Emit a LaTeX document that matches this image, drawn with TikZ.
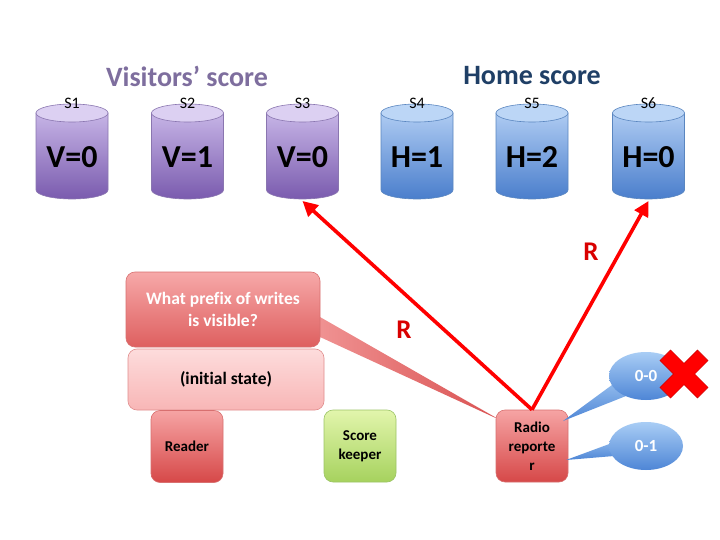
\documentclass[tikz,border=0pt]{standalone}
\usepackage{fontspec}
\setmainfont[Ligatures=NoCommon]{Carlito}
\usetikzlibrary{arrows.meta,shapes.geometric}
\definecolor{purpletop}{HTML}{C6B4E6}
\definecolor{purplebot}{HTML}{7A5BAE}
\definecolor{purplecap}{HTML}{DCD0F2}
\definecolor{purpleline}{HTML}{8A76B0}
\definecolor{bluetop}{HTML}{AECBF2}
\definecolor{bluebot}{HTML}{4A7ECC}
\definecolor{bluecap}{HTML}{BCD6F6}
\definecolor{blueline}{HTML}{5A86C0}
\definecolor{vistext}{HTML}{7E6E9E}
\definecolor{hometext}{HTML}{1F3F66}
\definecolor{redtop}{HTML}{F6A4A4}
\definecolor{redbot}{HTML}{D64848}
\definecolor{redline}{HTML}{D87070}
\definecolor{pinktop}{HTML}{FDDCDC}
\definecolor{pinkbot}{HTML}{F8B6B6}
\definecolor{greentop}{HTML}{E2F5AC}
\definecolor{greenbot}{HTML}{A6D25E}
\definecolor{greenline}{HTML}{9CC466}
\definecolor{btop}{HTML}{A9CDF5}
\definecolor{bbot}{HTML}{4E86D6}
\newcommand\mycyl[5]{%
  \path[top color=#5top, bottom color=#5bot, draw=#5line, line width=0.6pt]
    (#1-36,113) -- (#1-36,190) arc[start angle=180,end angle=0,x radius=36,y radius=9] -- (#1+36,113) -- cycle;
  \draw[fill=#5cap, draw=#5line, line width=0.6pt] (#1,113) ellipse[x radius=36,y radius=9];
  \node[valtext] (#2) at (#1,157) {#4};
  \node[slab] (#2lab) at (#1,103) {#3};
  \coordinate (#2b) at (#1,201);
}
\begin{document}
\begin{tikzpicture}[x=1pt,y=-1pt,
  valtext/.style={font=\bfseries\fontsize{32}{32}\selectfont, inner sep=0pt},
  slab/.style={font=\fontsize{16}{16}\selectfont, inner sep=0pt},
  boxbase/.style={rounded corners=9pt, minimum width=72pt, minimum height=72pt,
    font=\bfseries\fontsize{15}{19}\selectfont, align=center, inner sep=1pt, line width=0.6pt},
  redbox/.style={boxbase, top color=redtop, bottom color=redbot, draw=redline},
  greenbox/.style={boxbase, top color=greentop, bottom color=greenbot, draw=greenline},
  bubble/.style={ellipse, minimum width=74pt, minimum height=48pt, inner sep=0pt,
    top color=btop, bottom color=bbot, text=white, font=\bfseries\fontsize{17}{17}\selectfont},
  redarrow/.style={draw=red, line width=3.6pt, -{Triangle[length=15pt,width=15pt]}},
  rlab/.style={text=red!85!black, font=\bfseries\fontsize{27}{27}\selectfont, inner sep=0pt}]
\useasboundingbox (0,0) rectangle (720,540);
\fill[white] (0,0) rectangle (720,540);

% titles
\node[text=vistext, font=\bfseries\fontsize{28}{28}\selectfont] (vis) at (187,76) {Visitors’ score};
\node[text=hometext, font=\bfseries\fontsize{28}{28}\selectfont] (home) at (532,76) {Home score};

% cylinders
\mycyl{72}{s1}{S1}{V=0}{purple}
\mycyl{187.5}{s2}{S2}{V=1}{purple}
\mycyl{302.5}{s3}{S3}{V=0}{purple}
\mycyl{417}{s4}{S4}{H=1}{blue}
\mycyl{532}{s5}{S5}{H=2}{blue}
\mycyl{648.5}{s6}{S6}{H=0}{blue}

% callout tail
\path[left color=redtop!80!redbot, right color=redbot!90!redtop] (320,317) -- (500,420) -- (320,337) -- cycle;

% callout and initial state
\node[rounded corners=9pt, minimum width=194pt, minimum height=75pt, top color=redtop!95!white,
  bottom color=redbot!75!redtop, draw=redline, line width=0.6pt, text=white, align=center,
  font=\bfseries\fontsize{17.5}{22}\selectfont] (q) at (223,309.5) {What prefix of writes\\is visible?};
\node[rounded corners=9pt, minimum width=196pt, minimum height=61pt, top color=pinktop,
  bottom color=pinkbot, draw=redline!80!white, line width=0.6pt,
  font=\bfseries\fontsize{17.5}{17.5}\selectfont] (init) at (226,379.5) {(initial state)};

% actors
\node[redbox] (reader) at (187,446.5) {Reader};
\node[greenbox] (keeper) at (360,446) {Score\\keeper};
\node[redbox] (radio) at (532,446) {Radio\\reporte\\r};

% read arrows
\draw[redarrow] (radio.north) -- (s3b);
\draw[redarrow] (radio.north) -- (s6b);
\node[rlab] (r1) at (591,252) {R};
\node[rlab] (r2) at (404,330) {R};

% bubbles
\path[top color=btop!70!bbot, bottom color=bbot] (612,385) -- (563,421) -- (626,396) -- cycle;
\path[top color=btop!60!bbot, bottom color=bbot] (612,443) -- (566,460) -- (614,456) -- cycle;
\node[bubble] (b1) at (646,376) {0-0};
\node[bubble] (b2) at (646,446) {0-1};

% red cross
\begin{scope}[shift={(684,374)}, rotate=45]
\fill[red, draw=red!80!black, line width=0.5pt]
  (7.5,7.5) -- (26.5,7.5) -- (26.5,-7.5) -- (7.5,-7.5) -- (7.5,-26.5) -- (-7.5,-26.5) --
  (-7.5,-7.5) -- (-26.5,-7.5) -- (-26.5,7.5) -- (-7.5,7.5) -- (-7.5,26.5) -- (7.5,26.5) -- cycle;
\end{scope}
\end{tikzpicture}
\end{document}
